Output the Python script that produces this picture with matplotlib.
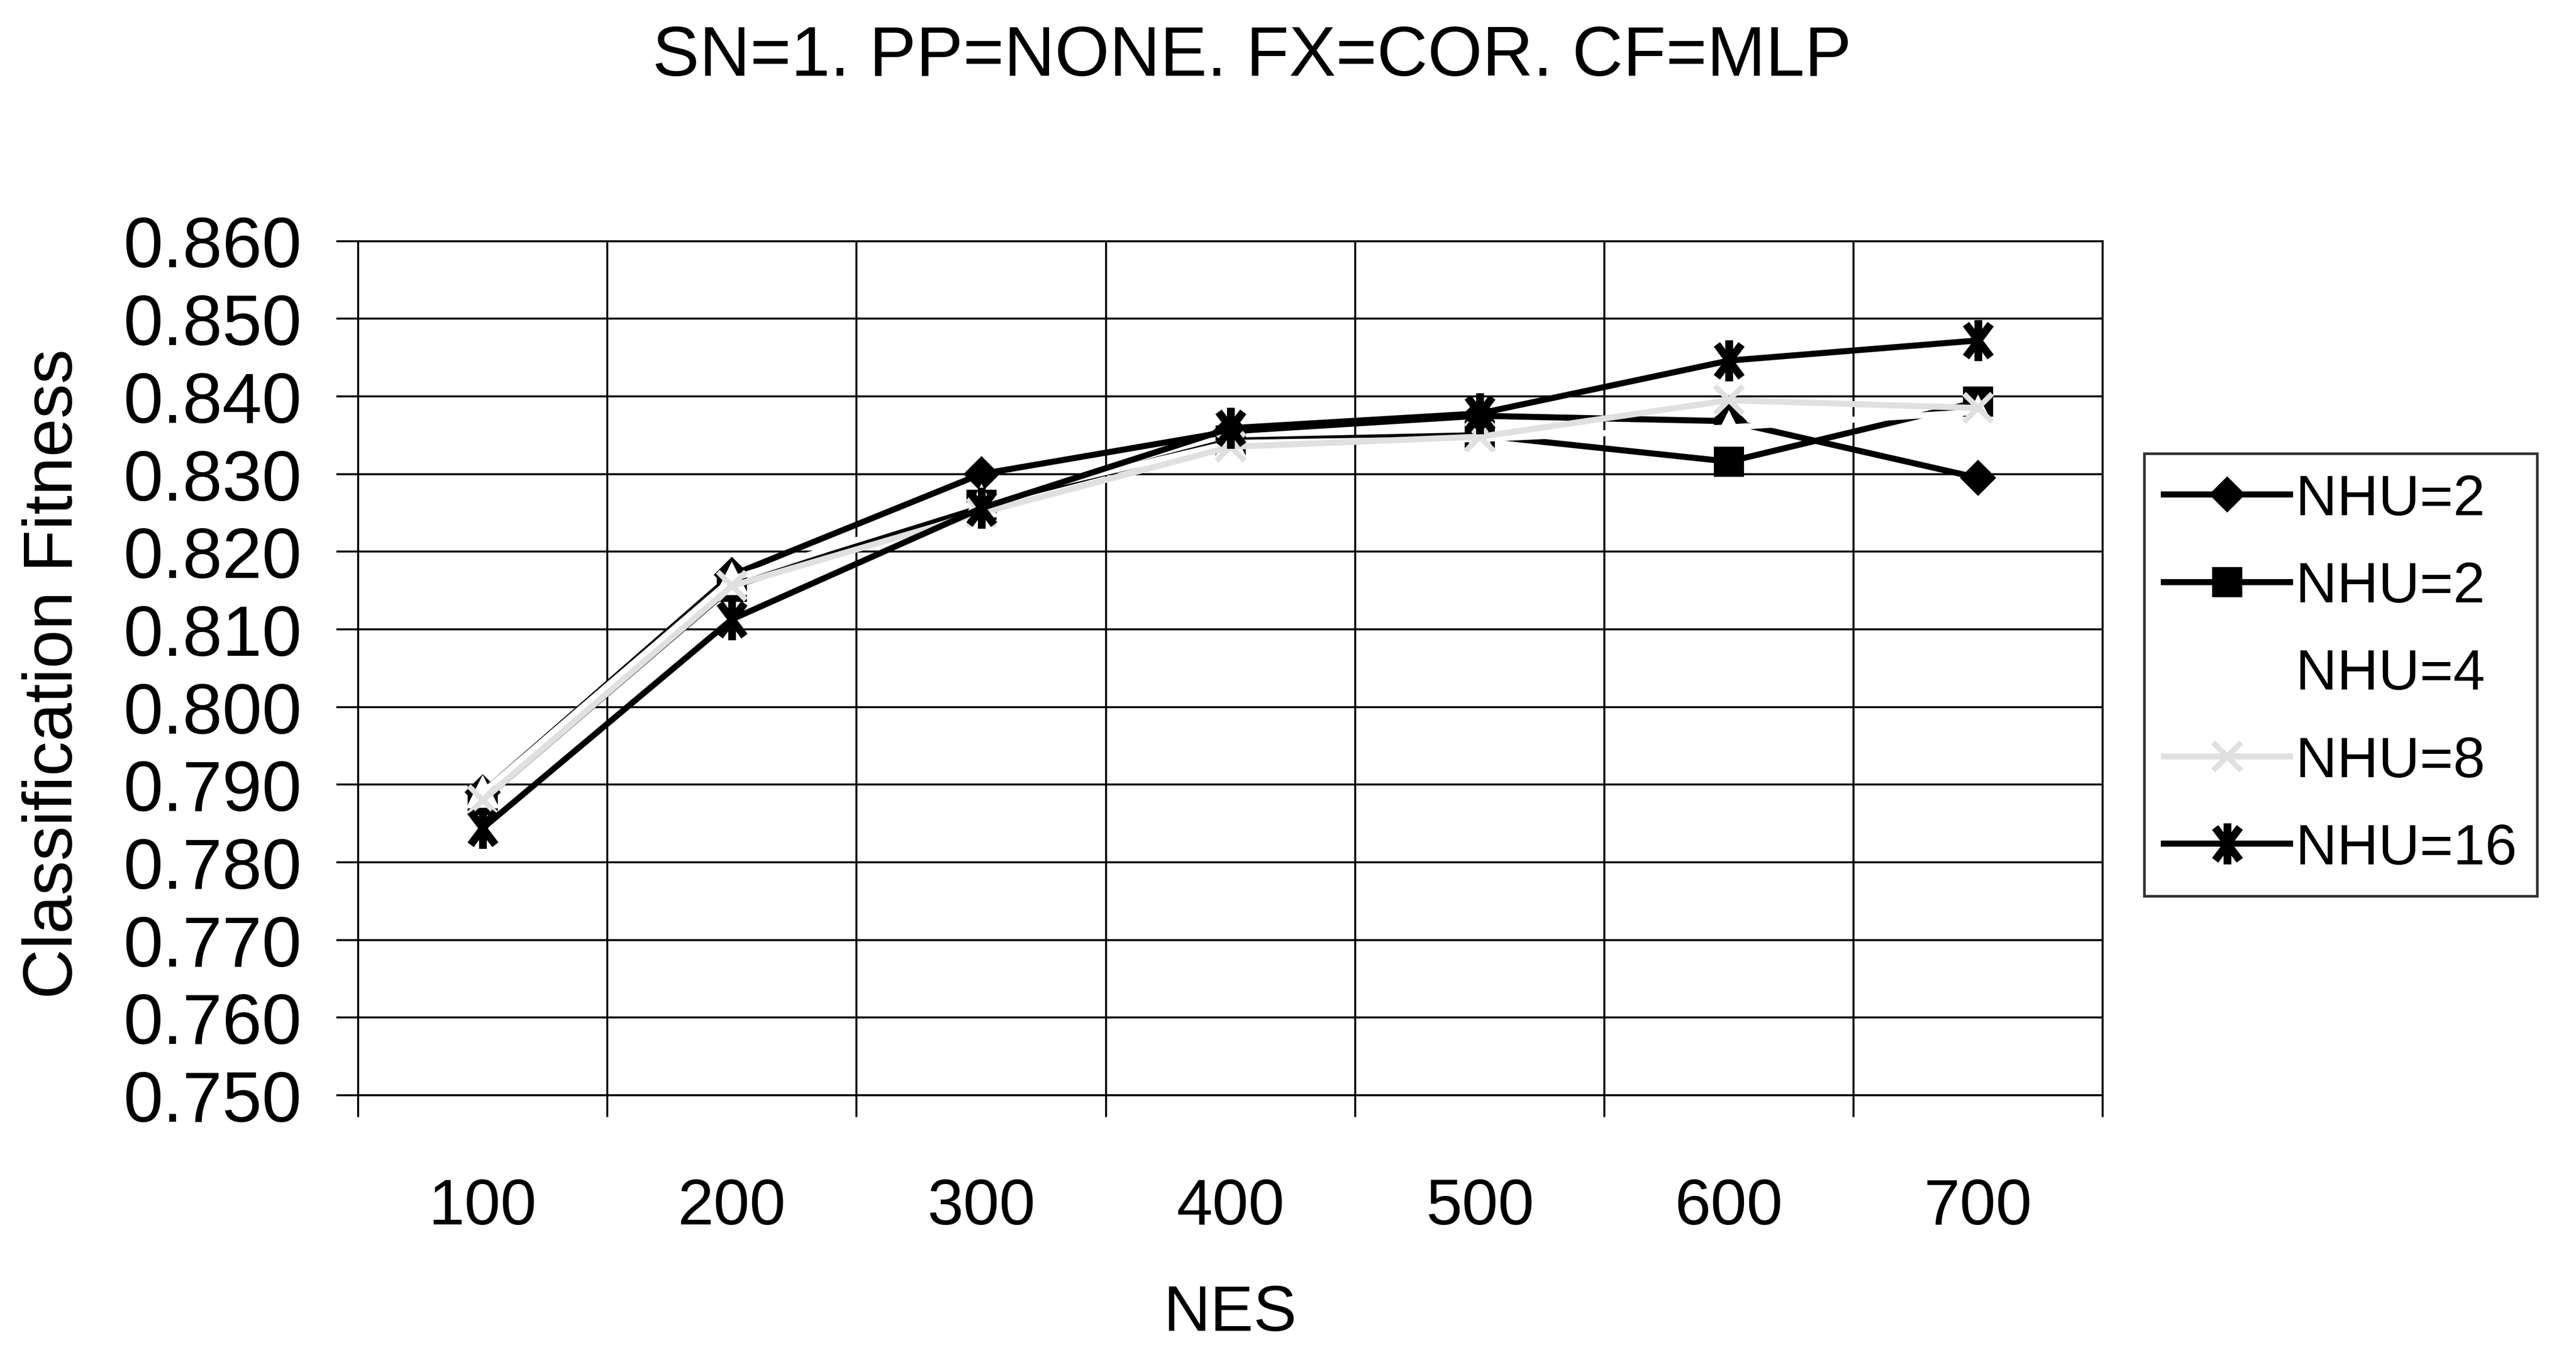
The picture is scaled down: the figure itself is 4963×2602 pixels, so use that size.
import numpy as np
import matplotlib
matplotlib.use("Agg")
import matplotlib.pyplot as plt
from matplotlib.path import Path

plt.rcParams['font.family'] = ['Liberation Sans', 'DejaVu Sans']

# data
nes = [100, 200, 300, 400, 500, 600, 700]
nhu2_diamond = [0.789, 0.817, 0.830, 0.8355, 0.8375, 0.8368, 0.8295]
nhu2_square = [0.788, 0.8155, 0.826, 0.8343, 0.8350, 0.8316, 0.8393]
nhu4 = [0.789, 0.8165, 0.8265, 0.8340, 0.8345, 0.8360, 0.8380]
nhu8 = [0.788, 0.8156, 0.8250, 0.8335, 0.8348, 0.8395, 0.8385]
nhu16 = [0.7844, 0.8113, 0.8256, 0.8359, 0.8378, 0.8446, 0.8472]
yticks = [0.750, 0.760, 0.770, 0.780, 0.790, 0.800, 0.810,
          0.820, 0.830, 0.840, 0.850, 0.860]

# excel style star: X plus a vertical bar
star = Path([(-0.6, -0.8), (0.6, 0.8), (-0.6, 0.8), (0.6, -0.8), (0, -1), (0, 1)],
            [Path.MOVETO, Path.LINETO, Path.MOVETO, Path.LINETO, Path.MOVETO, Path.LINETO])

fig = plt.figure(figsize=(4963 / 300, 2603 / 300), dpi=300)
ax = fig.add_axes([218 / 1568, 1 - 667 / 822, (1280 - 218) / 1568, (667 - 147) / 822])

pos = np.arange(len(nes))
lw = 2.8
ax.plot(pos, nhu2_diamond, color='black', lw=lw, marker='D', ms=11, label='NHU=2', zorder=3)
ax.plot(pos, nhu2_square, color='black', lw=lw, marker='s', ms=13, label='NHU=2', zorder=3)
ax.plot(pos, nhu4, color='white', lw=lw, marker='^', ms=14, mec='white', mfc='white',
        label='NHU=4', zorder=3)
ax.plot(pos, nhu8, color='#e0e0e0', lw=lw, marker='x', ms=13, mew=2.5, label='NHU=8', zorder=3)
ax.plot(pos, nhu16, color='black', lw=lw, marker=star, ms=19, mew=3.6, label='NHU=16', zorder=3)

ax.set_xlim(-0.5, len(nes) - 0.5)
ax.set_ylim(0.750, 0.860)
ax.set_yticks(yticks)
ax.set_yticklabels(['%.3f' % v for v in yticks])
ax.set_xticks(pos)
ax.set_xticklabels([str(v) for v in nes])
ax.set_xticks(np.arange(len(nes) + 1) - 0.5, minor=True)

ax.grid(True, axis='y', which='major', color='black', lw=0.9)
ax.grid(True, axis='x', which='minor', color='black', lw=0.9)
ax.grid(False, axis='x', which='major')

ax.tick_params(axis='y', which='major', direction='out', length=10, width=0.9,
               pad=16, labelsize=33)
ax.tick_params(axis='x', which='major', length=0, pad=38, labelsize=30)
ax.tick_params(axis='x', which='minor', direction='out', length=10, width=0.9)
for s in ax.spines.values():
    s.set_linewidth(0.9)

fig.text(762 / 1568, 1 - 35 / 822, 'SN=1. PP=NONE. FX=COR. CF=MLP',
         ha='center', va='center', fontsize=32.5)
fig.text(33 / 1568, 1 - 410 / 822, 'Classification Fitness', rotation=90,
         ha='center', va='center', fontsize=32)
fig.text(749 / 1568, 1 - 800 / 822, 'NES', ha='center', va='center', fontsize=30)

leg = fig.legend(loc='center left', bbox_to_anchor=(1305 / 1568, 1 - 411 / 822),
                 fontsize=26.5, frameon=True, fancybox=False, handlelength=2.2,
                 handletextpad=0.1, labelspacing=0.6, borderpad=0.35, borderaxespad=0)
leg.get_frame().set_edgecolor('black')
leg.get_frame().set_linewidth(1.2)

fig.savefig('out.png', dpi=300, facecolor='white')
